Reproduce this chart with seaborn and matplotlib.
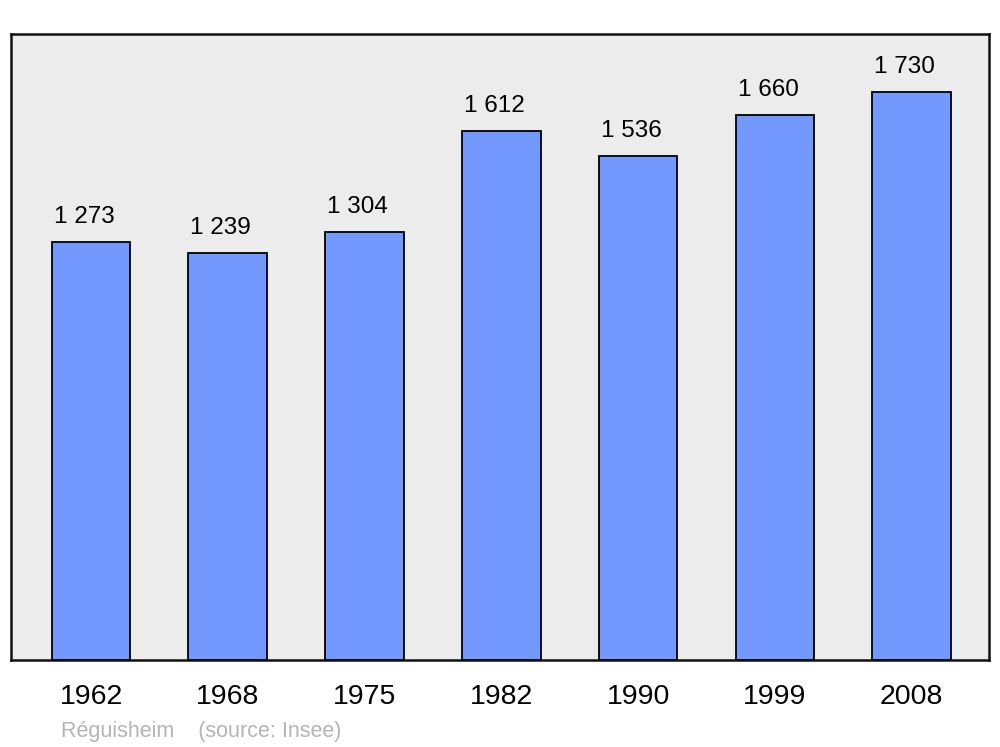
import matplotlib
matplotlib.use("Agg")
import matplotlib.pyplot as plt
import seaborn as sns
import pandas as pd

years = ["1962", "1968", "1975", "1982", "1990", "1999", "2008"]
population = [1273, 1239, 1304, 1612, 1536, 1660, 1730]
source_text = "Réguisheim    (source: Insee)"

sns.set_theme(style="white")
plt.rcParams["font.family"] = ["Liberation Sans", "DejaVu Sans"]

df = pd.DataFrame({"year": years, "pop": population})

fig = plt.figure(figsize=(10, 7.47), dpi=100)
ax = fig.add_axes([0.011, 0.1165, 0.978, 0.838])
ax.set_facecolor("#ececec")

sns.barplot(data=df, x="year", y="pop", color="#7399ff", saturation=1,
            width=0.575, edgecolor="black", linewidth=1.3, ax=ax)

ax.set_xlim(-0.585, 6.565)
ax.set_ylim(0, 1907)
ax.set_xlabel("")
ax.set_ylabel("")
ax.set_yticks([])
ax.tick_params(axis="x", length=0, pad=17, labelsize=20.5, colors="black")

for s in ax.spines.values():
    s.set_visible(True)
    s.set_color("#111111")
    s.set_linewidth(1.8)

labels = ax.bar_label(ax.containers[0],
                      labels=[f"{v:,}".replace(",", " ") for v in population],
                      padding=10, fontsize=17.5, color="black")
for t in labels:
    t.xyann = (-5, 10)

fig.text(0.061, 1 - 737 / 747, source_text, fontsize=15.5, color="#b4b4b4",
         ha="left", va="baseline")

fig.savefig("out.png", dpi=100)
